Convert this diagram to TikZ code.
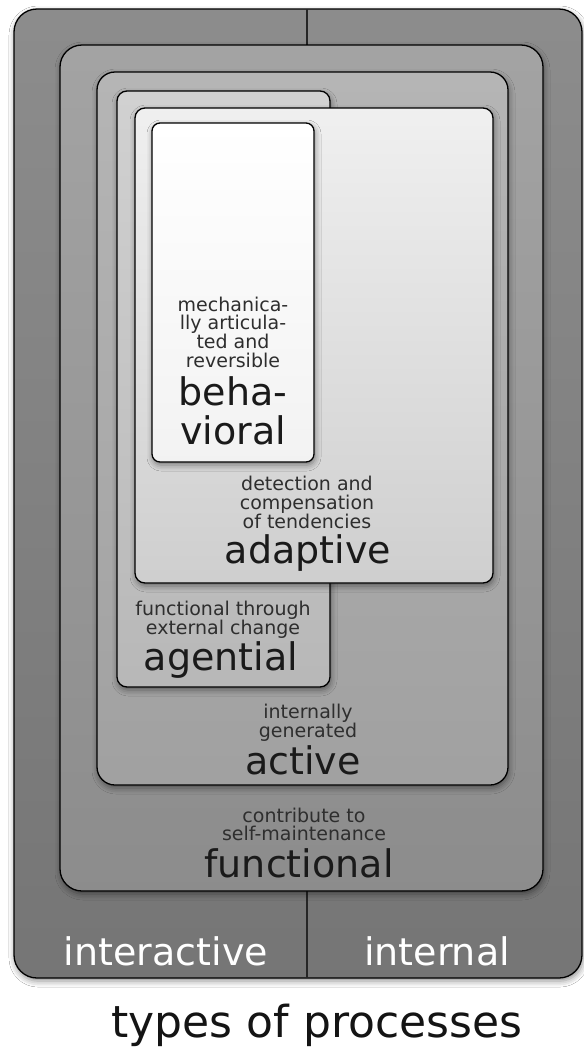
\documentclass[tikz,border=0pt]{standalone}
\usepackage{fontspec}
\setmainfont{DejaVu Sans}
\usetikzlibrary{shadows.blur}
\definecolor{txtsmall}{HTML}{2E2E2E}
\definecolor{txtbig}{HTML}{1A1A1A}
\tikzset{
  box/.style={draw=black, line width=1.3pt,
    blur shadow={shadow xshift=1pt, shadow yshift=-3pt, shadow blur radius=6pt, shadow opacity=45}},
  small/.style={anchor=base, inner sep=0pt, text=txtsmall, font=\fontsize{19}{19}\selectfont},
  big/.style={anchor=base, inner sep=0pt, text=txtbig, font=\fontsize{38}{38}\selectfont},
  white label/.style={anchor=base, inner sep=0pt, text=white, font=\fontsize{38}{38}\selectfont},
  title/.style={anchor=base, inner sep=0pt, text=black!92, font=\fontsize{44}{44}\selectfont},
  divider/.style={draw=black!85, line width=1.3pt}
}
\begin{document}
\begin{tikzpicture}[x=1pt,y=-1pt]
\useasboundingbox (0,0) rectangle (584,1053);
\fill[white] (0,0) rectangle (584,1053);
% outer box
\draw[box, rounded corners=23pt, top color=black!45!white, bottom color=black!54!white] (14,9) rectangle (582,978);
\coordinate (dtop1) at (307,9);
\coordinate (dtop2) at (307,45);
\coordinate (dbot1) at (307,891);
\coordinate (dbot2) at (307,978);
\draw[divider] (dtop1) -- (dtop2);
\draw[divider] (dbot1) -- (dbot2);
% functional
\draw[box, rounded corners=22pt, top color=black!36!white, bottom color=black!45!white] (60,45) rectangle (543,891);
% active
\draw[box, rounded corners=18pt, top color=black!29!white, bottom color=black!37!white] (97,72) rectangle (508,785);
% agential
\draw[box, rounded corners=10pt, top color=black!18!white, bottom color=black!28!white] (117,91) rectangle (330,687);
% adaptive
\draw[box, rounded corners=10pt, top color=black!6!white, bottom color=black!19!white] (135,108) rectangle (493,583);
% behavioral
\draw[box, rounded corners=8pt, top color=white, bottom color=black!5!white] (152,123) rectangle (314,462);

% behavioral texts
\node[small] (b1) at (233,311) {mechanica-};
\node[small] (b2) at (233,329.5) {lly articula-};
\node[small] (b3) at (233,348) {ted and};
\node[small] (b4) at (233,367) {reversible};
\node[big, font=\fontsize{38}{33}\selectfont] (b5) at (233,444)
  {\begin{tabular}[b]{@{}c@{}}beha-\\vioral\end{tabular}};
% adaptive texts
\node[small] (a1) at (307,490) {detection and};
\node[small] (a2) at (307,509) {compensation};
\node[small] (a3) at (307,528) {of tendencies};
\node[big] (a4) at (308,563) {adaptive};
% agential texts
\node[small] (g1) at (223,615) {functional through};
\node[small] (g2) at (223,634) {external change};
\node[big] (g3) at (221,670) {agential};
% active texts
\node[small] (c1) at (308,718) {internally};
\node[small] (c2) at (308,737) {generated};
\node[big] (c3) at (303,774) {active};
% functional texts
\node[small] (f1) at (304,822) {contribute to};
\node[small] (f2) at (304,840) {self-maintenance};
\node[big] (f3) at (299,877) {functional};
% bottom labels
\node[white label] (inter) at (166,965) {interactive};
\node[white label] (inte) at (437,965) {internal};
\node[title] (ttl) at (317,1037) {types of processes};
\end{tikzpicture}
\end{document}
